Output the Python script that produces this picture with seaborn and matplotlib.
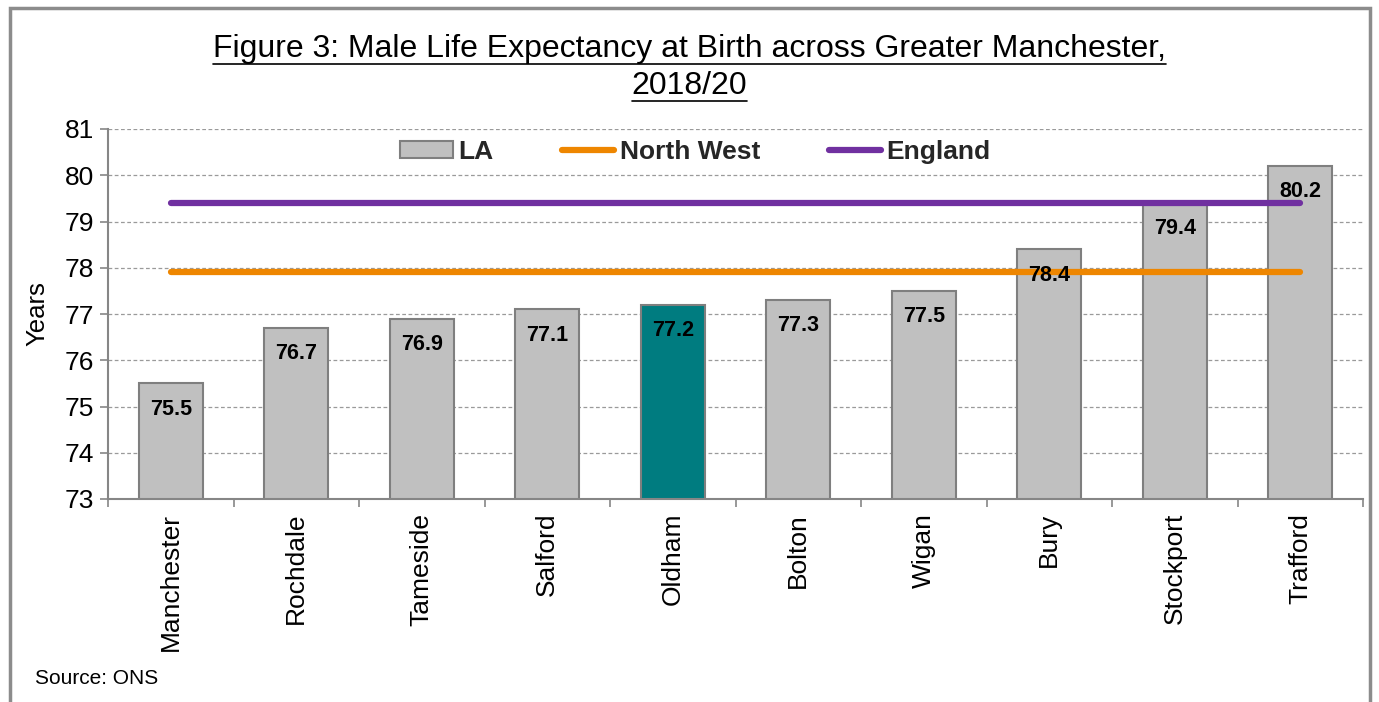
import numpy as np
import pandas as pd
import matplotlib
matplotlib.use("Agg")
import matplotlib.pyplot as plt
from matplotlib.patches import Patch, Rectangle
from matplotlib.lines import Line2D
import seaborn as sns

# ---- data ----
categories = ["Manchester", "Rochdale", "Tameside", "Salford", "Oldham",
              "Bolton", "Wigan", "Bury", "Stockport", "Trafford"]
la_values = [75.5, 76.7, 76.9, 77.1, 77.2, 77.3, 77.5, 78.4, 79.4, 80.2]
north_west = 77.9
england = 79.4
highlight = "Oldham"
y_ticks = [73, 74, 75, 76, 77, 78, 79, 80, 81]

title_lines = ["Figure 3: Male Life Expectancy at Birth across Greater Manchester,", "2018/20"]
source_text = "Source: ONS"

sns.set_theme(style="white")
plt.rcParams["font.family"] = ["Liberation Sans", "DejaVu Sans"]

GREY = "#C0C0C0"
TEAL = "#007C80"
EDGE = "#7F7F7F"
ORANGE = "#EE8600"
PURPLE = "#7030A0"
AXIS = "#868686"

fig = plt.figure(figsize=(13.79, 7.02), dpi=100)
ax = fig.add_axes([108 / 1379, 1 - 499 / 702, (1363 - 108) / 1379, (499 - 129) / 702])

df = pd.DataFrame({"LA": categories, "value": la_values})
df["group"] = ["hi" if c == highlight else "lo" for c in categories]
sns.barplot(data=df, x="LA", y="value", hue="group", order=categories,
            palette={"lo": GREY, "hi": TEAL}, dodge=False, width=0.51, saturation=1,
            edgecolor=EDGE, linewidth=1.5, legend=False, ax=ax, zorder=2)

n = len(categories)
xs = np.arange(n)
ax.plot(xs, np.full(n, north_west), color=ORANGE, lw=4.5, solid_capstyle="round", zorder=3)
ax.plot(xs, np.full(n, england), color=PURPLE, lw=4.5, solid_capstyle="round", zorder=3)

for i, v in enumerate(la_values):
    ax.annotate(f"{v:.1f}", (i, v), xytext=(0, -11), textcoords="offset points",
                ha="center", va="top", fontsize=15.5, fontweight="bold", color="black", zorder=4)

ax.set_ylim(73, 81)
ax.set_xlim(-0.5, n - 0.5)
ax.set_yticks(y_ticks)
ax.set_yticklabels([str(t) for t in y_ticks], fontsize=19, color="black")
ax.yaxis.grid(True, linestyle=(0, (3, 2)), color="#9A9A9A", linewidth=0.9)
ax.set_axisbelow(True)

ax.set_xticks(xs)
ax.set_xticklabels(categories, rotation=90, fontsize=19, color="black")
ax.set_xticks(np.arange(-0.5, n, 1.0), minor=True)
ax.tick_params(axis="x", which="major", length=0, pad=10)
ax.tick_params(axis="x", which="minor", length=6, direction="out", color=AXIS, width=1.2, bottom=True)
ax.tick_params(axis="y", which="major", length=6, direction="out", color=AXIS, width=1.2, left=True, pad=4)

for s in ["top", "right"]:
    ax.spines[s].set_visible(False)
for s in ["left", "bottom"]:
    ax.spines[s].set_color(AXIS)
    ax.spines[s].set_linewidth(1.5)

ax.set_xlabel("")
ax.set_ylabel("Years", fontsize=18.5, color="black")
ax.yaxis.set_label_coords(-0.047, 0.5)

handles = [Patch(facecolor=GREY, edgecolor=EDGE, linewidth=1.5, label="LA"),
           Line2D([0], [0], color=ORANGE, lw=4.5, solid_capstyle="round", label="North West"),
           Line2D([0], [0], color=PURPLE, lw=4.5, solid_capstyle="round", label="England")]
leg = ax.legend(handles=handles, loc="center", bbox_to_anchor=(0.468, 0.938), ncol=3,
                frameon=False, prop={"size": 19, "weight": "bold"}, handlelength=2.0,
                handleheight=0.6, handletextpad=0.2, columnspacing=2.6)

# title with underline
t1 = fig.text(0.5, 1 - 49 / 702, title_lines[0], ha="center", va="center", fontsize=23, color="black")
t2 = fig.text(0.5, 1 - 86 / 702, title_lines[1], ha="center", va="center", fontsize=23, color="black")
fig.text(35 / 1379, 1 - 678 / 702, source_text, ha="left", va="center", fontsize=15, color="black")

# outer frame
fig.patches.append(Rectangle((10 / 1379, -0.05), (1370 - 10) / 1379, (1 - 8 / 702) + 0.05,
                             transform=fig.transFigure, fill=False, edgecolor="#8C8C8C",
                             linewidth=2.5, clip_on=False))

fig.canvas.draw()
r = fig.canvas.get_renderer()
for t, yline in [(t1, 64), (t2, 101)]:
    bb = t.get_window_extent(renderer=r)
    fig.add_artist(Line2D([bb.x0 / 1379, bb.x1 / 1379], [1 - yline / 702, 1 - yline / 702],
                          transform=fig.transFigure, color="black", lw=1.2))

fig.savefig("out.png", dpi=100)
